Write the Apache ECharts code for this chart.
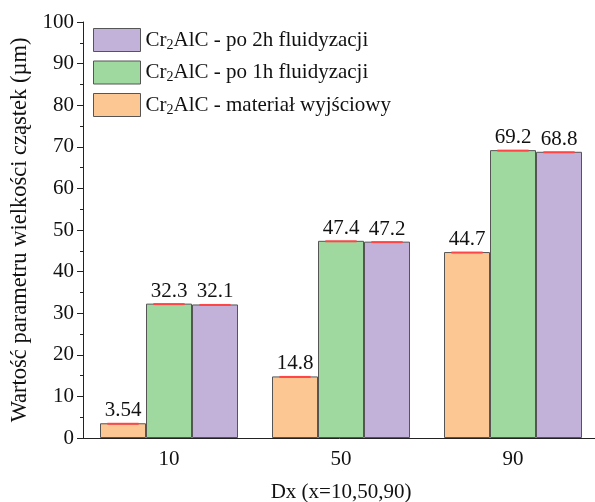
<!DOCTYPE html>
<html>
<head>
<meta charset="utf-8">
<script src="https://cdn.jsdelivr.net/npm/echarts@6/dist/echarts.min.js"></script>
<style>
  html, body { margin: 0; padding: 0; background: #fff; }
  #chart { width: 595px; height: 502px; }
</style>
</head>
<body>
<div id="chart"></div>
<script>
// Particle size parameters Dx for Cr2AlC powders
const categories = ['10', '50', '90'];
const seriesNames = ['Cr2AlC - materiał wyjściowy', 'Cr2AlC - po 1h fluidyzacji', 'Cr2AlC - po 2h fluidyzacji'];
const startMaterial = [3.54, 14.8, 44.7];
const after1h = [32.3, 47.4, 69.2];
const after2h = [32.1, 47.2, 68.8];
const yTicks = [0, 10, 20, 30, 40, 50, 60, 70, 80, 90, 100];

const colors = ['#FDC793', '#A0D9A0', '#C2B1D8'];
const FONT = '"Liberation Serif", "Times New Roman", serif';
const FS = 21;
const BAR_W = 46;
const CAT_W = 172;

const chart = echarts.init(document.getElementById('chart'), null, { renderer: 'canvas' });

const valueSets = [startMaterial, after1h, after2h];

function barSeries(i) {
  return {
    name: seriesNames[i],
    type: 'bar',
    data: valueSets[i],
    barWidth: BAR_W,
    barGap: '0%',
    itemStyle: { color: colors[i], borderColor: '#555', borderWidth: 1 },
    label: {
      show: true,
      position: 'top',
      distance: 2,
      color: '#111',
      fontFamily: FONT,
      fontSize: FS,
      formatter: p => String(p.value)
    },
    z: 2
  };
}

// Red mean marks across the top of each bar
function markSeries(i) {
  return {
    type: 'custom',
    name: 'mark' + i,
    data: valueSets[i].map((v, k) => [k, v]),
    z: 5,
    silent: true,
    renderItem: function (params, api) {
      const pt = api.coord([api.value(0), api.value(1)]);
      const band = api.size([1, 0])[0];
      const bw = band * BAR_W / CAT_W;
      const cx = pt[0] + (i - 1) * bw;
      const half = bw * 0.34;
      return {
        type: 'line',
        shape: { x1: cx - half, y1: pt[1] + 0.5, x2: cx + half, y2: pt[1] + 0.5 },
        style: { stroke: '#FF4545', lineWidth: 2 }
      };
    }
  };
}

function legendFormatter(name) {
  return '{t|Cr}{s|2}{t|' + name.slice(3) + '}';
}

const option = {
  animation: false,
  backgroundColor: '#fff',
  grid: { left: 83, top: 22, width: 516, height: 416, containLabel: false, outerBoundsMode: 'none' },
  legend: {
    data: [seriesNames[2], seriesNames[1], seriesNames[0]],
    orient: 'vertical',
    left: 88,
    top: 23,
    itemWidth: 47,
    itemHeight: 23,
    itemGap: 8.5,
    icon: 'rect',
    itemStyle: { borderColor: '#555', borderWidth: 1 },
    formatter: legendFormatter,
    textStyle: {
      color: '#111',
      fontFamily: FONT,
      fontSize: FS,
      rich: {
        t: { fontFamily: FONT, fontSize: FS, color: '#111' },
        s: { fontFamily: FONT, fontSize: 14, color: '#111', padding: [10, 0, 0, 0] }
      }
    }
  },
  xAxis: {
    type: 'category',
    data: categories,
    name: 'Dx (x=10,50,90)',
    nameLocation: 'middle',
    nameGap: 44,
    nameTextStyle: { fontFamily: FONT, fontSize: FS, color: '#111' },
    axisLine: { lineStyle: { color: '#222', width: 1 } },
    axisTick: { show: false },
    axisLabel: { fontFamily: FONT, fontSize: FS, color: '#111', margin: 11 },
    splitLine: { show: false }
  },
  yAxis: {
    type: 'value',
    min: 0,
    max: 100,
    interval: 10,
    name: 'Wartość parametru wielkości cząstek (µm)',
    nameLocation: 'middle',
    nameGap: 48,
    nameRotate: 90,
    nameTextStyle: { fontFamily: FONT, fontSize: 22.5, color: '#111' },
    axisLine: { show: true, lineStyle: { color: '#222', width: 1 } },
    axisTick: { show: true, inside: false, length: 6, lineStyle: { color: '#222' } },
    minorTick: { show: true, splitNumber: 2, length: 3, lineStyle: { color: '#222' } },
    axisLabel: {
      fontFamily: FONT, fontSize: FS, color: '#111', margin: 9,
      formatter: v => (yTicks.indexOf(v) >= 0 ? String(v) : '')
    },
    splitLine: { show: false }
  },
  series: [barSeries(0), barSeries(1), barSeries(2), markSeries(0), markSeries(1), markSeries(2)]
};

chart.setOption(option);
</script>
</body>
</html>
